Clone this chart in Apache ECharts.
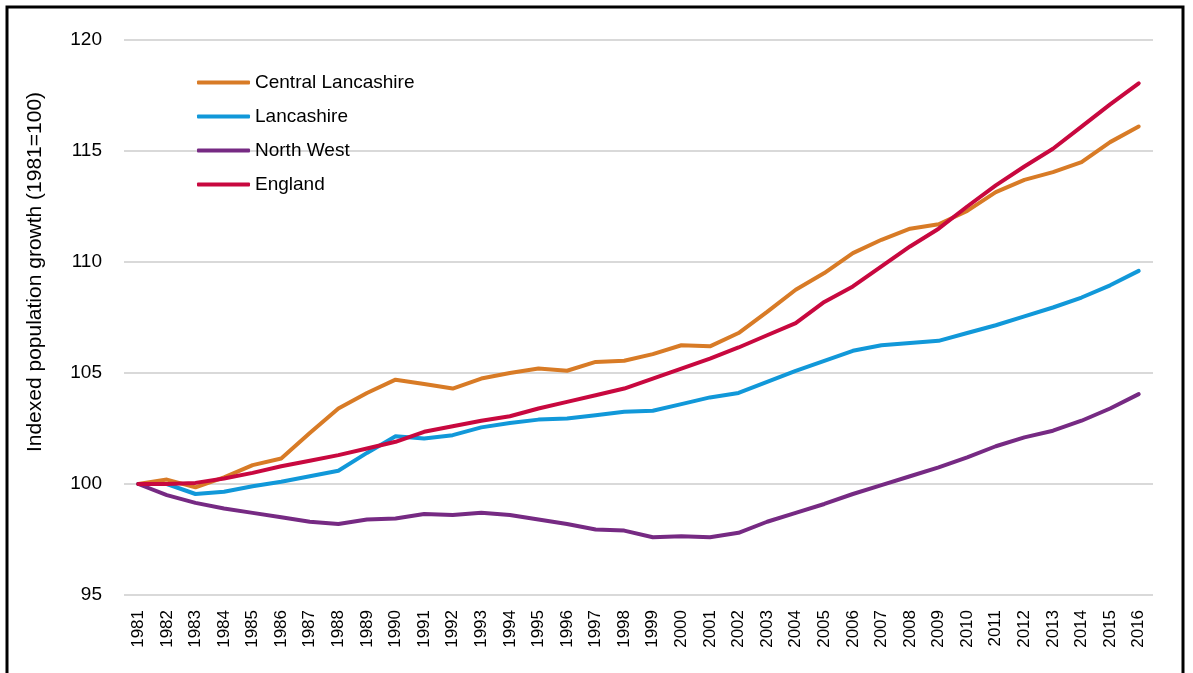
<!DOCTYPE html>
<html>
<head>
<meta charset="utf-8">
<script src="https://cdn.jsdelivr.net/npm/echarts@6/dist/echarts.min.js"></script>
<style>
  html, body { margin: 0; padding: 0; background: #fff; }
  #chart { width: 1193px; height: 673px; }
</style>
</head>
<body>
<div id="chart"></div>
<script>
const years = ['1981','1982','1983','1984','1985','1986','1987','1988','1989','1990',
  '1991','1992','1993','1994','1995','1996','1997','1998','1999','2000',
  '2001','2002','2003','2004','2005','2006','2007','2008','2009','2010',
  '2011','2012','2013','2014','2015','2016']

const centralLancashire = [100, 100.2, 99.85, 100.3, 100.85, 101.15, 102.3, 103.4, 104.1, 104.7,
  104.5, 104.3, 104.75, 105.0, 105.2, 105.1, 105.5, 105.55, 105.85, 106.25,
  106.2, 106.8, 107.75, 108.75, 109.5, 110.4, 111.0, 111.5, 111.7, 112.3,
  113.15, 113.7, 114.05, 114.5, 115.4, 116.1]

const lancashire = [100, 100.0, 99.55, 99.65, 99.9, 100.1, 100.35, 100.6, 101.4, 102.15,
  102.05, 102.2, 102.55, 102.75, 102.9, 102.95, 103.1, 103.25, 103.3, 103.6,
  103.9, 104.1, 104.6, 105.1, 105.55, 106.0, 106.25, 106.35, 106.45, 106.8,
  107.15, 107.55, 107.95, 108.4, 108.95, 109.6]

const northWest = [100, 99.5, 99.15, 98.9, 98.7, 98.5, 98.3, 98.2, 98.4, 98.45,
  98.65, 98.6, 98.7, 98.6, 98.4, 98.2, 97.95, 97.9, 97.6, 97.65,
  97.6, 97.8, 98.3, 98.7, 99.1, 99.55, 99.95, 100.35, 100.75, 101.2,
  101.7, 102.1, 102.4, 102.85, 103.4, 104.05]

const england = [100, 100.0, 100.05, 100.25, 100.5, 100.8, 101.05, 101.3, 101.6, 101.9,
  102.35, 102.6, 102.85, 103.05, 103.4, 103.7, 104.0, 104.3, 104.75, 105.2,
  105.65, 106.15, 106.7, 107.25, 108.2, 108.9, 109.8, 110.7, 111.5, 112.5,
  113.45, 114.3, 115.1, 116.1, 117.1, 118.05]

const seriesNames = ['Central Lancashire', 'Lancashire', 'North West', 'England']
const seriesData = [centralLancashire, lancashire, northWest, england]
const colors = ['#D87B26', '#1198D9', '#762A83', '#C8083F']

const fontFamily = '"Liberation Sans", Arial, sans-serif'

const chart = echarts.init(document.getElementById('chart'))

const option = {
  animation: false,
  textStyle: { fontFamily },
  grid: { left: 124, right: 40, top: 40, bottom: 78 },
  legend: {
    orient: 'vertical',
    left: 192,
    top: 68,
    itemWidth: 53,
    itemHeight: 4,
    itemGap: 15,
    icon: 'roundRect',
    textStyle: { color: '#000', fontSize: 19, fontFamily },
    data: seriesNames,
  },
  xAxis: {
    type: 'category',
    data: years,
    boundaryGap: true,
    axisLine: { show: false },
    axisTick: { show: false },
    axisLabel: {
      rotate: 90,
      interval: 0,
      margin: 15,
      color: '#000',
      fontSize: 17,
      fontFamily,
    },
  },
  yAxis: {
    type: 'value',
    min: 95,
    max: 120,
    interval: 5,
    axisLine: { show: false },
    axisTick: { show: false },
    axisLabel: { color: '#000', fontSize: 19, fontFamily, margin: 22 },
    splitLine: { lineStyle: { color: '#D9D9D9', width: 2 } },
  },
  graphic: [
    {
      type: 'rect',
      shape: { x: 7, y: 7, width: 1176, height: 720 },
      style: { fill: 'none', stroke: '#000', lineWidth: 3 },
      silent: true,
    },
    {
      type: 'text',
      x: 35,
      y: 272,
      rotation: Math.PI / 2,
      style: {
        text: 'Indexed population growth (1981=100)',
        fill: '#000',
        font: '21px ' + fontFamily,
        align: 'center',
        verticalAlign: 'middle',
      },
    },
  ],
  series: seriesNames.map((name, i) => ({
    name,
    type: 'line',
    data: seriesData[i],
    symbol: 'none',
    lineStyle: { color: colors[i], width: 4, cap: 'round', join: 'round' },
    itemStyle: { color: colors[i] },
  })),
}

chart.setOption(option)
</script>
</body>
</html>
